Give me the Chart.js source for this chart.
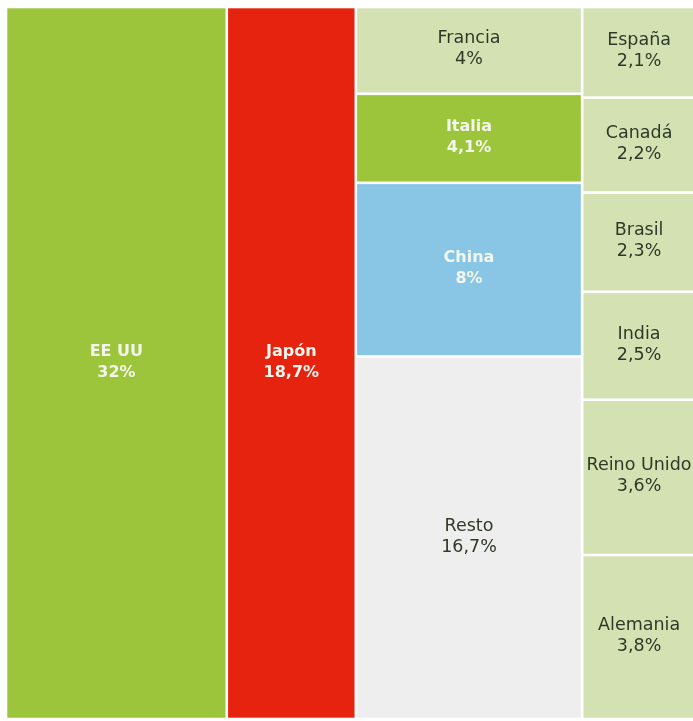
<!DOCTYPE html>
<html>
<head>
<meta charset="utf-8">
<script src="https://cdn.jsdelivr.net/npm/chart.js@4/dist/chart.umd.min.js"></script>
<style>
  html, body { margin: 0; padding: 0; background: #fff; overflow: hidden; }
</style>
</head>
<body>
<canvas id="mapa" width="696" height="721"></canvas>
<script>
// Cuota por país (%)
const paises = ['EE UU', 'Japón', 'Francia', 'Italia', 'China', 'Resto',
                'España', 'Canadá', 'Brasil', 'India', 'Reino Unido', 'Alemania'];
const cuotas = [32, 18.7, 4, 4.1, 8, 16.7, 2.1, 2.2, 2.3, 2.5, 3.6, 3.8];
// columna en la que va cada país
const columnas = [0, 1, 2, 2, 2, 2, 3, 3, 3, 3, 3, 3];
const colores = ['#9cc53b', '#e5230f', '#d4e2b3', '#9cc53b', '#89c6e6', '#eeeeee',
                 '#d4e2b3', '#d4e2b3', '#d4e2b3', '#d4e2b3', '#d4e2b3', '#d4e2b3'];
const textoBlanco = [true, true, false, true, true, false,
                     false, false, false, false, false, false];

// rectángulos en unidades de datos: x = % acumulado, y = parte de la columna
function calcularCeldas() {
    const totales = [];
    columnas.forEach((c, i) => { totales[c] = (totales[c] || 0) + cuotas[i]; });
    const inicioX = [];
    let acc = 0;
    totales.forEach((t, c) => { inicioX[c] = acc; acc += t; });
    const accY = totales.map(() => 0);
    return paises.map((p, i) => {
        const c = columnas[i];
        const y0 = accY[c] / totales[c] * 100;
        accY[c] += cuotas[i];
        const y1 = accY[c] / totales[c] * 100;
        return { x0: inicioX[c], x1: inicioX[c] + totales[c], y0, y1, i };
    });
}
const celdas = calcularCeldas();

const formato = v => String(v).replace('.', ',') + '%';

const treemapPlugin = {
    id: 'treemap',
    afterDatasetsDraw(chart) {
        const ctx = chart.ctx;
        const sx = chart.scales.x, sy = chart.scales.y;
        const hueco = 1.3;
        ctx.save();
        celdas.forEach(c => {
            const left = sx.getPixelForValue(c.x0) + hueco;
            const right = sx.getPixelForValue(c.x1) - hueco;
            const top = sy.getPixelForValue(c.y0) + hueco;
            const bottom = sy.getPixelForValue(c.y1) - hueco;
            ctx.fillStyle = colores[c.i];
            ctx.fillRect(left, top, right - left, bottom - top);

            const cx = (left + right) / 2, cy = (top + bottom) / 2 - 1;
            if (textoBlanco[c.i]) {
                ctx.fillStyle = '#f3f6ec';
                ctx.font = 'bold 16px "DejaVu Sans", sans-serif';
            } else {
                ctx.fillStyle = '#2e3a27';
                ctx.font = '17.5px "DejaVu Sans", sans-serif';
            }
            ctx.textAlign = 'center';
            ctx.textBaseline = 'middle';
            ctx.fillText(paises[c.i], cx, cy - 10.5);
            ctx.fillText(formato(cuotas[c.i]), cx, cy + 10.5);
        });
        ctx.restore();
    }
};

new Chart(document.getElementById('mapa').getContext('2d'), {
    type: 'scatter',
    data: { datasets: [{ data: [] }] },
    options: {
        responsive: false,
        animation: false,
        layout: { padding: { left: 6, top: 7, right: 0, bottom: 2 } },
        scales: {
            x: { type: 'linear', min: 0, max: 100, display: false },
            y: { type: 'linear', min: 0, max: 100, reverse: true, display: false }
        },
        plugins: { legend: { display: false }, tooltip: { enabled: false } }
    },
    plugins: [treemapPlugin]
});
</script>
</body>
</html>
